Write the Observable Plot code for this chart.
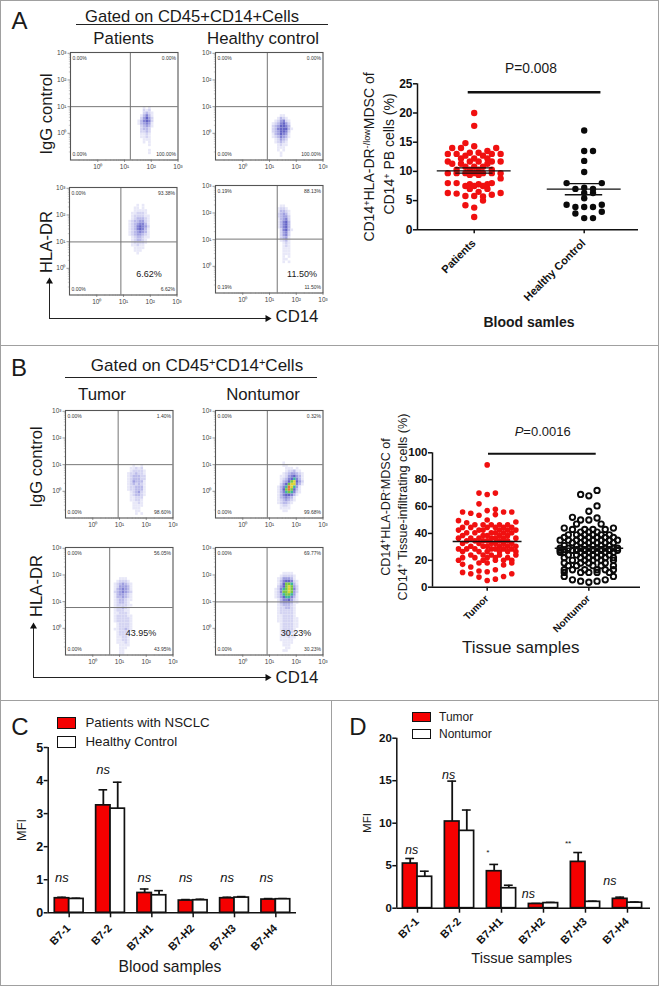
<!DOCTYPE html>
<html><head><meta charset="utf-8">
<script src="https://cdn.jsdelivr.net/npm/d3@7"></script>
<script src="https://cdn.jsdelivr.net/npm/@observablehq/plot@0.6"></script>
<style>
html,body{margin:0;padding:0;background:#fff}
#page{position:relative;width:659px;height:986px;overflow:hidden;font-family:"Liberation Sans",Arial,sans-serif;color:#1a1a1a}
.t{position:absolute;white-space:nowrap;line-height:1;transform-origin:center}
.t sup{font-size:65%;vertical-align:baseline;position:relative;top:-.45em;line-height:0}
.b{position:absolute;background:#a0a0a0}
svg{position:absolute;background:transparent}
</style></head><body><div id="page"></div>
<script>
// ---------- data ----------
const patientsRows=[[20,[0]],[17.8,[0]],[14.85,[-2]],[14.3,[0]],[14,[-5,-3,5]],[13.5,[3]],[13.2,[1,-1]],[13,[-6,-4,4,6]],[12.7,[-2,2]],[12.2,[-3,3,0]],[11.7,[-6,-1,1,4,6]],[11.3,[-5,-3,3]],[10.8,[-2,0,2]],[10.3,[-4,-1,1,4]],[9.7,[-6,-4,-2,0,2,4,6]],[9.4,[-1,1]],[8.8,[6]],[8,[-6,-4,4]],[7.8,[-1,1,3]],[7.5,[-2,0,2]],[7,[-1,3]],[6.5,[1]],[6.3,[-6,6]],[6.2,[-4]],[6,[4]],[5.8,[-2,0]],[5.7,[2]],[5,[2]],[4.2,[-2]],[3.8,[0]],[2.2,[0]]];
const controlRows=[[17,[0]],[13.5,[0,2]],[11.8,[0]],[9.9,[0]],[8,[-4,4]],[7.2,[0]],[7,[-2,2]],[6.3,[2,0]],[5.4,[0]],[4.3,[-4,4]],[3.9,[-2,0,2]],[3.1,[4]],[2.8,[-2]],[2,[0,2]]];
const patientsMeans=[{y:10.1,a:-8.4,b:8.4},{y:10.6,a:-4.2,b:4.3},{y:9.7,a:-4.2,b:4.3}];
const controlMeans=[{y:6.95,a:16.6,b:33.4},{y:7.9,a:20.7,b:29.2},{y:6.0,a:20.7,b:29.2}];
const tumorRows=[[91,[0]],[70,[-2,2]],[69,[0]],[62,[-2]],[58,[2]],[57,[0]],[56,[-6,4,6]],[55,[-4]],[54,[2]],[53.5,[-2]],[50,[0]],[49.5,[-7]],[48.5,[7]],[48,[-5]],[46.5,[-3,-1,1,3,5]],[44.5,[-6,-4,0,2,4,6]],[42.5,[-7,-2,-1,3,5,7]],[40.5,[-5,-3,1,2,4,6]],[38.5,[-6,-1,0,3,5]],[36.5,[-7,-4,-2,1,2,4,7]],[34.5,[-5,-3,-1,0,3,5]],[32.5,[-6,-2,1,2,4,6]],[30.5,[-4,-1,0,3,5,7]],[28.5,[-7,-5,-3,1,2,4,6]],[26.5,[-6,-2,0,3,5,7]],[24,[-4,-1,1,3,7]],[22,[-6,-3,0,2,5]],[20,[-7,-1,2,4,6]],[18,[-2,0,6]],[17,[-6]],[16.5,[4]],[15,[-4]],[13,[2]],[12,[-2]],[11.5,[0]],[11,[-6]],[10,[-4,6]],[8,[4]],[7.5,[-2]],[6,[2]],[5,[0]]];
const nontumorRows=[[72,[2]],[69,[-2]],[68,[0]],[60.5,[2]],[56.5,[0]],[52,[-4]],[51.5,[2]],[50,[-2,0]],[47,[-3,3]],[44,[-6,6]],[43,[-4,-1,1,4]],[41,[-2,2,0]],[39,[-5,-3,-1,1,3,5]],[37,[-6,-2,0,2,4,6]],[35,[-7,-5,-3,-1,1,3,5,7]],[33,[-4,-2,0,2,4,6]],[31,[-6,-3,-1,1,3,5]],[29,[-7,-5,-2,0,2,4,6,7]],[28,[-6,-3,-1,1,3,5]],[27.5,[-7,-4,-3,-1,1,3,5,7]],[26,[-7,-6,-2,0,2,4,6]],[24,[-5,-3,-1,1,3,5]],[22,[-6,-2,0,2,4,6]],[20,[-4,-1,1,3,6]],[18,[-6,-2,0,4]],[16,[-5,-3,1,3,6]],[13,[-6,-4,-1,2,4,6]],[11,[-6,-2,0,2,5]],[8,[-6,6]],[5.5,[-4,4]],[4.5,[-2,2]],[3.7,[0]]];
const tumorMean=[{y:34,a:-8.3,b:8.5}];
const nontumorMean=[{y:29,a:16.6,b:33.3}];

const bTicks=["B7-1","B7-2","B7-H1","B7-H2","B7-H3","B7-H4"];
const cRed=[.44,3.25,.6,.37,.44,.4], cRedTop=[.47,3.72,.72,.40,.47,.43];
const cWhite=[.42,3.15,.53,.38,.46,.41], cWhiteTop=[.44,3.95,.67,.41,.49,.43];
const dRed=[5.25,10.2,4.35,.5,5.45,1.1], dRedTop=[5.85,14.95,5.15,.55,6.55,1.3];
const dWhite=[3.7,9.1,2.35,.6,.75,.65], dWhiteTop=[4.35,11.55,2.7,.68,.82,.72];
const cNotes=[[-.18,1.05,"ns"],[.82,4.32,"ns"],[1.82,1.05,"ns"],[2.82,1.05,"ns"],[3.82,1.05,"ns"],[4.77,1.05,"ns"]];
const dNotes=[[-.14,6.8,"ns"],[.74,15.65,"ns"],[1.67,6.6,"*"],[2.64,1.7,"ns"],[3.58,7.6,"**"],[4.58,3.15,"ns"]];

// density: rows from ytop down, 0.1 decade per cell
const aUL={x0:1.5,ytop:1.0,g:["0010100","0021200","0023210","0135310","0246420","1356520","1345410","0234310","0233200","0223200","0112100","0112100","0011100","0010100","0000100","0000000","0000100","0000100"]};
const aUR={x0:1.1,ytop:.7,g:["00011000","00132100","01245210","12356420","23466530","23566631","23466520","13465410","12354310","01243200","01232100","00121100","00111000","00101000","00010000","00010000"]};
const aLL={x0:1.2,ytop:2.4,g:["000101000","001101000","001111100","011222100","012222110","012333210","123344210","123455310","123565420","123565310","123454310","123443210","012332110","012332100","012222100","011211000","001111000","001110000","000100000"]};
const aLR={x0:1.3,ytop:2.3,g:["0110000","1221000","1332100","2343100","2344200","1345200","1356300","1356300","1356300","0256310","0245200","0245200","0234100","0123100","0012100","0012100","0011100","0011100","0011100","0010100","0011000","0010100"]};
const bUL={x0:1.3,ytop:1.0,g:["00100100","01121200","01222210","12232210","12333220","12333220","12433310","12323210","12233310","12233310","01234210","01233210","01122200","01122100","00112100","00111100","00111000","00011000","00010100"]};
const bUR={x0:1.2,ytop:1.1,g:["00010000000","00011000000","00001110100","00001223110","00012344321","00112456431","00123567531","00134689642","00246899531","01357a97410","01368a86310","01357875210","01356653100","01345431000","01234321000","01233210000","00122100000","00111100000","00011000000"]};
const bLL={x0:.8,ytop:1.9,g:["00111000","01222100","12343210","12444310","13454310","23454320","13443210","13343210","12332110","12332100","12222110","12232100","12221100","11222100","12222110","12222210","12222210","01222210","01222210","11223210","01222200","01222100","01122100","01122100","01112100","00111100","00111000","00110000","00110000"]};
const bLR={x0:1.2,ytop:2.1,g:["0001111000","0012222100","0124443100","0135665210","0136887310","0246898420","1257898520","1258898420","1247887410","1246775310","0135564210","0134443110","0123332100","0122332100","0122222100","0122222100","0112222100","0112222110","0112222110","0012222110","0012222110","0012222100","0012222100","0012221100","0011121100","0011111000","0001111000","0001110000","0000110000","0001100000"]};
const flowPanels=[
 {d:aUL,left:69.5,top:51.7,gx:1.22,gy:1,pct:["0.00%","0.00%","0.00%","100.00%"]},
 {d:aUR,left:214.5,top:51.7,gx:.92,gy:1,pct:["0.00%","0.00%","0.00%","100.00%"]},
 {d:aLL,left:69,top:186.7,gx:.9,gy:.99,pct:["0.00%","93.38%","0.00%","6.62%"]},
 {d:aLR,left:215,top:185.3,gx:1.29,gy:1.02,pct:["0.19%","88.13%","0.19%","11.50%"]},
 {d:bUL,left:64.5,top:410,gx:.95,gy:1,pct:["0.00%","1.40%","0.00%","98.60%"]},
 {d:bUR,left:214.5,top:410,gx:.92,gy:1,pct:["0.00%","0.32%","0.00%","99.68%"]},
 {d:bLL,left:64.5,top:547.3,gx:.63,gy:.78,pct:["0.00%","56.05%","0.00%","43.95%"]},
 {d:bLR,left:214.5,top:547.3,gx:.91,gy:.99,pct:["0.00%","69.77%","0.00%","30.23%"]}
];
const decades=[1,10,100,1000], decadeLabels=["10⁰","10¹","10²","10³"];
const minorTicks=[.2,.3,.4,.5,.6,.7,.8,.9,2,3,4,5,6,7,8,9,20,30,40,50,60,70,80,90,200,300,400,500,600,700,800,900];
const densityColors=["#e8e8f8","#d4d4f2","#babaea","#9f9fe0","#8282d4","#6464c6","#3fb59c","#78c645","#dcd437","#e8763a"];

// ---------- helpers ----------
const page=document.getElementById("page");
function put(svg,left,top){svg.style.left=left+"px";svg.style.top=top+"px";page.appendChild(svg);}
function T(html,x,y,o={}){
  const e=document.createElement("div");e.className="t";e.innerHTML=html;
  e.style.left=x+"px";e.style.top=y+"px";e.style.fontSize=(o.s||14)+"px";
  if(o.w)e.style.fontWeight=o.w; if(o.i)e.style.fontStyle="italic";
  e.style.transform=`translate(-50%,-50%) rotate(${o.r||0}deg)`;
  page.appendChild(e);
}
function B(x,y,w,h,c){const e=document.createElement("div");e.className="b";
  e.style.cssText+=`left:${x}px;top:${y}px;width:${w}px;height:${h}px;`+(c?`background:${c};`:"");page.appendChild(e);}
const font={fontFamily:"Liberation Sans, Arial, sans-serif",background:"transparent",overflow:"visible"};
const expand=(rows,c=0)=>rows.flatMap(([y,ks])=>ks.map(k=>({x:c+k,y})));

function flow(p){
  const cells=p.d.g.flatMap((row,r)=>[...row].map((ch,c)=>({e:p.d.x0+c*.1,t:p.d.ytop-r*.1,v:parseInt(ch,16)}))).filter(d=>d.v>0);
  const L=17,R=8,Tp=4,Bt=13,S=107.5;
  const svg=Plot.plot({width:S+L+R,height:S+Tp+Bt,marginLeft:L,marginRight:R,marginTop:Tp,marginBottom:Bt,style:font,
    x:{type:"log",domain:[10**-1.02,10**3.0]},y:{type:"log",domain:[10**-1.0,10**3.03]},
    color:{type:"ordinal",domain:d3.range(1,11),range:densityColors},
    marks:[
      Plot.rect(cells,{x1:d=>10**d.e,x2:d=>10**(d.e+.1),y1:d=>10**(d.t-.1),y2:d=>10**d.t,fill:"v"}),
      Plot.ruleX([10**p.gx],{stroke:"#8c8c8c",strokeWidth:1.2}),
      Plot.ruleY([10**p.gy],{stroke:"#777",strokeWidth:1}),
      Plot.frame({stroke:"#555",strokeWidth:1.1}),
      Plot.axisX(decades,{tickSize:2.5,tickPadding:1.5,fontSize:6.5,tickFormat:(d,i)=>decadeLabels[decades.indexOf(d)],label:null,stroke:"#555",fill:"#444",strokeWidth:.6}),
      Plot.axisX(minorTicks,{tickSize:1.2,tickFormat:()=>"",label:null,stroke:"#777",strokeWidth:.4}),
      Plot.axisY(decades,{tickSize:2.5,tickPadding:1.5,fontSize:6.5,tickFormat:(d,i)=>decadeLabels[decades.indexOf(d)],label:null,stroke:"#555",fill:"#444",strokeWidth:.6}),
      Plot.axisY(minorTicks,{tickSize:1.2,tickFormat:()=>"",label:null,stroke:"#777",strokeWidth:.4}),
      Plot.text([p.pct[0]],{frameAnchor:"top-left",dx:2,dy:4,fontSize:5,fill:"#333",text:d=>d}),
      Plot.text([p.pct[1]],{frameAnchor:"top-right",dx:-2,dy:4,fontSize:5,fill:"#333",text:d=>d}),
      Plot.text([p.pct[2]],{frameAnchor:"bottom-left",dx:2,dy:-4,fontSize:5,fill:"#333",text:d=>d}),
      Plot.text([p.pct[3]],{frameAnchor:"bottom-right",dx:-2,dy:-4,fontSize:5,fill:"#333",text:d=>d})
    ]});
  put(svg,p.left-L,p.top-Tp);
}
flowPanels.forEach(flow);

function tickText(xs,labels,fs,dx,dy){
  return Plot.text(xs,{x:d=>d,text:d=>labels[xs.indexOf(d)],frameAnchor:"bottom",dx,dy,rotate:-45,textAnchor:"end",fontSize:fs,fontWeight:"bold",fill:"#111"});
}
function swarm(o){
  const svg=Plot.plot({width:o.w,height:o.h,marginLeft:o.ml,marginRight:o.mr,marginTop:o.mt,marginBottom:o.mb,style:font,
    x:{type:"linear",domain:o.xd},y:{domain:o.yd},
    marks:[
      Plot.ruleY([o.yd[0]],{stroke:"#111",strokeWidth:1.5}),
      Plot.ruleX([o.xd[0]],{stroke:"#111",strokeWidth:1.5}),
      ...o.dots,
      ...o.rules,
      Plot.ruleY([o.bar.y],{x1:o.bar.a,x2:o.bar.b,stroke:"#111",strokeWidth:o.bar.sw}),
      Plot.axisY(o.yt,{tickSize:4,tickPadding:1,fontSize:o.fs,fontWeight:"bold",label:null,strokeWidth:1.5,stroke:"#111",fill:"#111"}),
      Plot.axisX(o.xt,{tickSize:4,tickFormat:()=>"",label:null,strokeWidth:1.5,stroke:"#111"}),
      tickText(o.xt,o.xl,o.xfs,o.tdx,o.tdy)
    ]});
  put(svg,o.left,o.top);
}
const mrule=(d,sw)=>Plot.ruleY(d,{y:"y",x1:"a",x2:"b",stroke:"#111",strokeWidth:sw});
swarm({left:395,top:70,w:264,h:240,ml:22,mr:21,mt:13.3,mb:80.7,xd:[-12.89,37.34],yd:[0,25],
  yt:[0,5,10,15,20,25],fs:12,xt:[0,25],xl:["Patients","Healthy Control"],xfs:11,tdx:2,tdy:14,
  bar:{y:23.56,a:-1.36,b:28.8,sw:2.6},
  dots:[Plot.dot(expand(patientsRows),{x:"x",y:"y",r:3.2,fill:"#f01010"}),Plot.dot(expand(controlRows,25),{x:"x",y:"y",r:3.2,fill:"#0a0a0a"})],
  rules:[mrule(patientsMeans,1.3),mrule(controlMeans,1.3)]});
swarm({left:410,top:440,w:249,h:220,ml:22,mr:19,mt:12.3,mb:73.3,xd:[-13.34,37.4],yd:[0,100],
  yt:[0,20,40,60,80,100],fs:11.5,xt:[0,24.8],xl:["Tumor","Nontumor"],xfs:10,tdx:2,tdy:12,
  bar:{y:99.3,a:.32,b:26.6,sw:2},
  dots:[Plot.dot(expand(tumorRows),{x:"x",y:"y",r:2.8,fill:"#f01010"}),Plot.dot(expand(nontumorRows,24.8),{x:"x",y:"y",r:2.7,fill:"none",stroke:"#0a0a0a",strokeWidth:1.9})],
  rules:[mrule(tumorMean,1.4),mrule(nontumorMean,1.4)]});

function bars(o){
  const red=bTicks.map((_,i)=>({x1:i-.348,x2:i,v:o.r[i],t:o.rt[i],c:i-.174}));
  const white=bTicks.map((_,i)=>({x1:i,x2:i+.348,v:o.w2[i],t:o.wt[i],c:i+.174}));
  const all=[...red,...white];
  const svg=Plot.plot({width:o.w,height:o.h,marginLeft:o.ml,marginRight:o.mr,marginTop:o.mt,marginBottom:o.mb,style:font,
    x:{type:"linear",domain:o.xd},y:{domain:o.yd},
    marks:[
      Plot.ruleX(all,{x:"c",y1:"v",y2:"t",stroke:"#111",strokeWidth:1.8}),
      Plot.ruleY(all,{y:"t",x1:d=>d.c-.105,x2:d=>d.c+.105,stroke:"#111",strokeWidth:1.6}),
      Plot.rectY(red,{x1:"x1",x2:"x2",y1:0,y2:"v",fill:"#f50000",stroke:"#111",strokeWidth:1.7}),
      Plot.rectY(white,{x1:"x1",x2:"x2",y1:0,y2:"v",fill:"#fff",stroke:"#111",strokeWidth:1.7}),
      Plot.ruleY([0],{stroke:"#111",strokeWidth:1.5}),
      Plot.ruleX([o.xd[0]],{stroke:"#111",strokeWidth:1.5}),
      Plot.axisY(o.yt,{tickSize:4,tickPadding:1,fontSize:o.fs,fontWeight:"bold",label:null,strokeWidth:1.5,stroke:"#111",fill:"#111"}),
      Plot.axisX(d3.range(6),{tickSize:5,tickFormat:()=>"",label:null,strokeWidth:1.5,stroke:"#111"}),
      tickText(d3.range(6),bTicks,11,o.tdx,o.tdy),
      Plot.text(o.notes,{x:d=>d[0],y:d=>d[1],text:d=>d[2],fontSize:d=>d[2]=="ns"?o.ns:8,fontStyle:"italic",fill:"#111"})
    ]});
  put(svg,o.left,o.top);
}
bars({left:25,top:735,w:290,h:235,ml:22.7,mr:19,mt:12,mb:57.7,xd:[-.508,5.5],yd:[0,5],yt:[0,1,2,3,4,5],fs:12.5,r:cRed,rt:cRedTop,w2:cWhite,wt:cWhiteTop,notes:cNotes,ns:13,tdx:2,tdy:16});
bars({left:371,top:725,w:288,h:240,ml:25.3,mr:9,mt:12.7,mb:57.3,xd:[-.493,5.548],yd:[0,20],yt:[0,5,10,15,20],fs:11.5,r:dRed,rt:dRedTop,w2:dWhite,wt:dWhiteTop,notes:dNotes,ns:12.5,tdx:2,tdy:14});

// arrows of the flow panels, on a page-sized layer
const arrowPaths=[{v:[282,318],h:[49,266],cx:49,cy:318},{v:[627,677],h:[33,266],cx:33,cy:677}];
const overlay=Plot.plot({width:659,height:986,margin:0,style:font,x:{domain:[0,659],axis:null},y:{domain:[986,0],axis:null},
  marks:[
    Plot.ruleX(arrowPaths,{x:"cx",y1:d=>d.v[0],y2:d=>d.v[1],stroke:"#222",strokeWidth:1}),
    Plot.ruleY(arrowPaths,{y:"cy",x1:d=>d.h[0],x2:d=>d.h[1],stroke:"#222",strokeWidth:1}),
    Plot.dot(arrowPaths,{x:"cx",y:d=>d.v[0]-1,symbol:"triangle",r:2.6,fill:"#111"}),
    Plot.dot(arrowPaths,{x:d=>d.h[1]+1,y:"cy",symbol:"triangle",r:2.6,fill:"#111",rotate:90})
  ]});
put(overlay,0,0);

// ---------- frame lines ----------
B(0,0,659,1);B(0,0,1,986);B(658,0,1,986);B(0,985,659,1);B(0,345,659,1);B(0,700,659,1);B(331,700,1,286);
B(75.7,24,252,1,"#222");B(65,377,252,1,"#222");

// ---------- text ----------
T("A",19.5,21,{s:24});T("B",19,368,{s:24});T("C",20,727,{s:24});T("D",358,727,{s:24});
T("Gated on CD45+CD14+Cells",192,17,{s:16.6});
T("Patients",123.7,39,{s:16.8});T("Healthy control",263,39,{s:16.8});
T("IgG control",47,114,{s:16.6,r:-90});T("HLA-DR",47,242,{s:16.6,r:-90});
T("6.62%",149,274,{s:9});T("11.50%",302,274,{s:9});
T("CD14",297,317,{s:16.8});
T("Gated on CD45<sup>+</sup>CD14<sup>+</sup>Cells",197,365,{s:17});
T("Tumor",102,395,{s:16.8});T("Nontumor",263,395,{s:16.8});
T("IgG control",37,467,{s:16.6,r:-90});T("HLA-DR",37,586,{s:16.6,r:-90});
T("43.95%",141,633,{s:9});T("30.23%",296,633,{s:9});
T("CD14",297,678,{s:16.8});
T("P=0.008",531,69,{s:13.8});
T("CD14<sup>+</sup>HLA-DR<sup>-/low</sup>MDSC of",369,156.7,{s:14,r:-90});
T("CD14<sup>+</sup> PB cells (%)",389,154,{s:14,r:-90});
T("Blood samles",529,321.7,{s:14,w:"bold"});
T("<i>P</i>=0.0016",542.7,430.7,{s:13});
T("CD14<sup>+</sup>HLA-DR<sup>-</sup>MDSC of",386,507,{s:12.6,r:-90});
T("CD14<sup>+</sup> Tissue-infiltrating cells (%)",403.3,507,{s:12.6,r:-90});
T("Tissue samples",520.7,647,{s:17});
T("MFI",22,830,{s:12.8,r:-90});T("Blood samples",170,967,{s:15.7});
T("MFI",367,822.7,{s:11.6,r:-90});T("Tissue samples",521.7,958,{s:14.6});

// legends
function swatch(x,y,w,h,c){const e=document.createElement("div");e.style.cssText=`position:absolute;box-sizing:border-box;left:${x}px;top:${y}px;width:${w}px;height:${h}px;background:${c};border:1.7px solid #111`;page.appendChild(e);}
swatch(57,717,19,11.5,"#f50000");swatch(57,736,19,11.5,"#fff");
swatch(412,711.5,19,10,"#f50000");swatch(412,729,19,10,"#fff");
const lg=(t,x,y,s)=>{const e=document.createElement("div");e.className="t";e.textContent=t;e.style.left=x+"px";e.style.top=y+"px";e.style.fontSize=s+"px";e.style.transform="translateY(-50%)";page.appendChild(e);};
lg("Patients with NSCLC",85.5,722.5,13.3);lg("Healthy Control",85.5,741.5,13.3);
lg("Tumor",439,716.5,12);lg("Nontumor",439,734,12);
</script></body></html>
